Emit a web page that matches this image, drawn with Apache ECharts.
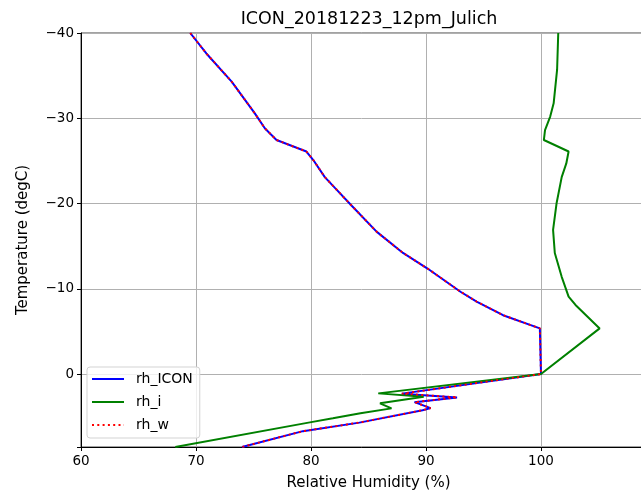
<!DOCTYPE html>
<html>
<head>
<meta charset="utf-8">
<script src="https://cdn.jsdelivr.net/npm/echarts@6/dist/echarts.min.js"></script>
<style>html,body{margin:0;padding:0;background:#fff}#c{width:641px;height:497px}</style>
</head>
<body>
<div id="c"></div>
<script>
// rh_ICON profile (temperature degC, relative humidity %)
var tempICON = [-40, -37.6, -34.3, -30.6, -28.8, -27.45, -26.1, -25.1, -23.1, -21.8, -19.8, -16.7, -14.2, -12.4, -9.65, -8.5, -6.9, -5.35, 0, 2.3, 2.74, 3.3, 4.0, 4.25, 5.7, 6.7, 8.56];
var rhICON   = [69.5, 70.9, 73.1, 75.1, 76.0, 77.0, 79.6, 80.2, 81.2, 82.1, 83.5, 85.7, 88.0, 90.1, 93.0, 94.4, 96.7, 99.9, 100.0, 87.9, 92.7, 89.0, 90.4, 89.7, 84.2, 79.3, 74.0];
// rh_i profile
var tempI = [-40, -35.7, -31.75, -30.2, -28.6, -27.45, -26.1, -24.7, -23.1, -20.0, -16.9, -14.2, -11.4, -9.07, -8.1, -5.35, 0, 2.27, 2.66, 3.44, 4.03, 4.6, 5.2, 5.67, 8.56];
var rhI   = [101.5, 101.4, 101.1, 100.8, 100.35, 100.25, 102.4, 102.2, 101.8, 101.35, 101.05, 101.2, 101.8, 102.4, 103.0, 105.1, 100.0, 85.85, 89.8, 86.0, 87.0, 84.3, 81.9, 79.9, 68.2];
// rh_w profile (coincides with rh_ICON)
var tempW = [-40, -37.6, -34.3, -30.6, -28.8, -27.45, -26.1, -25.1, -23.1, -21.8, -19.8, -16.7, -14.2, -12.4, -9.65, -8.5, -6.9, -5.35, 0, 2.3, 2.74, 3.3, 4.0, 4.25, 5.7, 6.7, 8.56];
var rhW   = [69.5, 70.9, 73.1, 75.1, 76.0, 77.0, 79.6, 80.2, 81.2, 82.1, 83.5, 85.7, 88.0, 90.1, 93.0, 94.4, 96.7, 99.9, 100.0, 87.9, 92.7, 89.0, 90.4, 89.7, 84.2, 79.3, 74.0];

var xTicks = [60, 70, 80, 90, 100];
var yTicks = [-40, -30, -20, -10, 0];

function pairs(xs, ys) { return xs.map(function (x, i) { return [x, ys[i]]; }); }
var FONT = 'DejaVu Sans';

var chart = echarts.init(document.getElementById('c'), null, {renderer: 'canvas'});
chart.setOption({
  animation: false,
  backgroundColor: '#fff',
  title: {
    text: 'ICON_20181223_12pm_Julich',
    left: 369, top: 10, padding: 0, textAlign: 'center',
    textStyle: {fontSize: 17.5, fontWeight: 'normal', color: '#000', fontFamily: FONT}
  },
  grid: {left: 81, top: 33, right: -15, bottom: 50, show: true, borderColor: '#444', borderWidth: 1, outerBoundsMode: 'none', containLabel: false},
  legend: {
    orient: 'vertical', left: 87, top: 367,
    itemWidth: 32, itemHeight: 14, itemGap: 9,
    padding: [5, 7, 6, 4],
    backgroundColor: 'rgba(255,255,255,0.8)', borderColor: '#d3d3d3', borderWidth: 1, borderRadius: 3,
    itemStyle: {opacity: 0},
    textStyle: {fontSize: 14, fontFamily: FONT, color: '#000', padding: [0, 0, 0, 7]},
    data: ['rh_ICON', 'rh_i', 'rh_w']
  },
  xAxis: {
    type: 'value', min: 60, max: 110, interval: 10,
    name: 'Relative Humidity (%)', nameLocation: 'middle', nameGap: 29,
    nameTextStyle: {fontSize: 15, fontFamily: FONT, color: '#000'},
    axisLine: {show: true, onZero: false, lineStyle: {color: '#000', width: 1}},
    axisTick: {show: true, length: 4, lineStyle: {color: '#000'}},
    axisLabel: {fontSize: 13.5, fontFamily: FONT, color: '#000', margin: 7,
      formatter: function (v) { return xTicks.indexOf(v) >= 0 ? String(v) : ''; }},
    splitLine: {show: true, lineStyle: {color: '#b0b0b0', width: 1}}
  },
  yAxis: {
    type: 'value', min: -40, max: 8.56, interval: 10, inverse: true,
    name: 'Temperature (degC)', nameLocation: 'middle', nameGap: 50,
    nameTextStyle: {fontSize: 15, fontFamily: FONT, color: '#000'},
    axisLine: {show: true, onZero: false, lineStyle: {color: '#000', width: 1}},
    axisTick: {show: true, length: 4, lineStyle: {color: '#000'}},
    axisLabel: {fontSize: 13.5, fontFamily: FONT, color: '#000', margin: 7,
      formatter: function (v) { return yTicks.indexOf(v) >= 0 ? String(v).replace('-', '\u2212') : ''; }},
    splitLine: {show: true, lineStyle: {color: '#b0b0b0', width: 1}}
  },
  series: [
    {name: 'rh_ICON', type: 'line', symbol: 'none', clip: true, data: pairs(rhICON, tempICON),
      lineStyle: {color: '#0000ff', width: 2}, itemStyle: {color: '#0000ff'}},
    {name: 'rh_i', type: 'line', symbol: 'none', clip: true, data: pairs(rhI, tempI),
      lineStyle: {color: '#008000', width: 2}, itemStyle: {color: '#008000'}},
    {name: 'rh_w', type: 'line', symbol: 'none', clip: true, data: pairs(rhW, tempW),
      lineStyle: {color: '#ff0000', width: 2, type: [2, 3.3]}, itemStyle: {color: '#ff0000'}}
  ]
});
</script>
</body>
</html>
